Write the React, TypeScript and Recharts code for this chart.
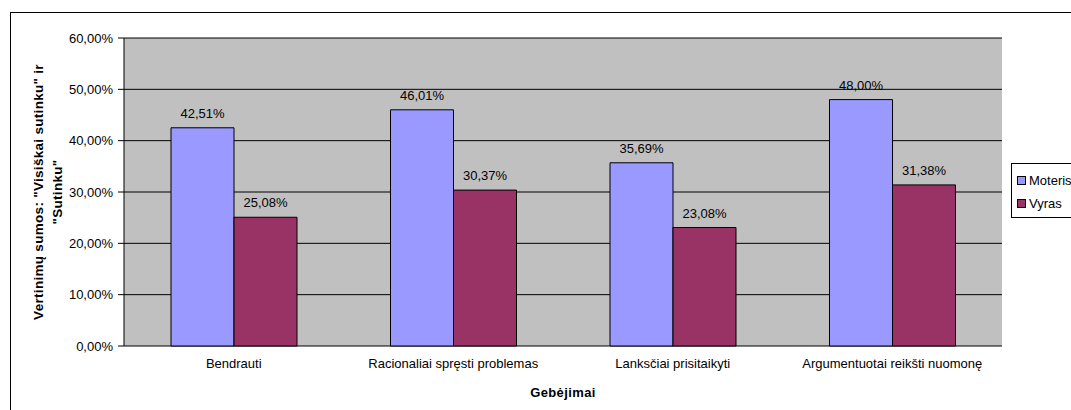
import { BarChart, Bar, XAxis, YAxis, CartesianGrid, Legend, LabelList, Label } from "recharts";

const categories = ["Bendrauti", "Racionaliai spręsti problemas", "Lanksčiai prisitaikyti", "Argumentuotai reikšti nuomonę"];
const moteris = [42.51, 46.01, 35.69, 48.0];
const vyras = [25.08, 30.37, 23.08, 31.38];
const yTicks = [0, 10, 20, 30, 40, 50, 60];
const boundaryTicks = [0, 1, 2, 3, 4];

const data = categories.map((name, i) => ({ name, moteris: moteris[i], vyras: vyras[i] }));

const FONT = "'Liberation Sans', Arial, sans-serif";
const pct = (v: number) => v.toFixed(2).replace(".", ",") + "%";

const LegendBox = () => (
  <div
    style={{
      border: "1px solid #000",
      background: "#fff",
      width: 80,
      height: 55,
      fontFamily: FONT,
      fontSize: 13,
      boxSizing: "border-box",
      paddingTop: 5,
      paddingLeft: 5,
    }}
  >
    {[
      ["Moteris", "#9999FF"],
      ["Vyras", "#993366"],
    ].map(([n, c]) => (
      <div key={n} style={{ display: "flex", alignItems: "center", height: 23 }}>
        <span style={{ width: 7, height: 7, border: "1px solid #000", background: c, marginRight: 3 }} />
        <span>{n}</span>
      </div>
    ))}
  </div>
);

const YTitle = (props: any) => {
  const vb = props.viewBox;
  const cy = vb.y + vb.height / 2;
  return (
    <text transform={`rotate(-90, 36, ${cy})`} x={36} y={cy} textAnchor="middle" fontFamily={FONT} fontSize={13.5} fontWeight="bold" letterSpacing={0.3} fill="#000">
      <tspan x={36} dy={-4}>Vertinimų sumos: "Visiškai sutinku" ir</tspan>
      <tspan x={36} dy={19}>"Sutinku"</tspan>
    </text>
  );
};

export default function App() {
  return (
    <div style={{ position: "fixed", left: 0, top: 0, width: 1071, height: 410, overflow: "hidden", background: "#fff" }}>
      <div style={{ position: "absolute", left: 10, top: 12, width: 1090, height: 410, border: "1px solid #000", background: "#fff" }}>
        <BarChart width={1090} height={400} data={data} margin={{ top: 25, right: 19, left: 0, bottom: 7 }} barGap={0}>
          <CartesianGrid vertical={false} stroke="#000" fill="#C0C0C0" fillOpacity={1} />
          <XAxis
            xAxisId="b"
            type="number"
            domain={[0, 4]}
            ticks={boundaryTicks}
            height={0}
            tickSize={5}
            tickFormatter={() => ""}
            axisLine={{ stroke: "#000" }}
            tickLine={{ stroke: "#000" }}
          />
          <XAxis
            dataKey="name"
            height={60}
            axisLine={false}
            tickLine={false}
            tickSize={0}
            tickMargin={13}
            interval={0}
            tick={{ fill: "#000", fontSize: 13, fontFamily: FONT }}
          >
            <Label value="Gebėjimai" position="insideBottom" offset={9} fill="#000" fontSize={13} fontWeight="bold" fontFamily={FONT} letterSpacing={0.4} />
          </XAxis>
          <YAxis
            width={113}
            domain={[0, 60]}
            ticks={yTicks}
            tickSize={6}
            tickMargin={5}
            tickFormatter={pct}
            axisLine={{ stroke: "#000" }}
            tickLine={{ stroke: "#000" }}
            tick={{ fill: "#000", fontSize: 13, fontFamily: FONT }}
          >
            <Label content={YTitle} />
          </YAxis>
          <Legend
            layout="vertical"
            align="right"
            verticalAlign="top"
            content={LegendBox}
            wrapperStyle={{ left: 1000, top: 150, width: 80 }}
          />
          <Bar dataKey="moteris" name="Moteris" fill="#9999FF" stroke="#000" barSize={63} isAnimationActive={false}>
            <LabelList dataKey="moteris" position="top" offset={10} formatter={(v: any) => pct(Number(v))} fill="#000" fontSize={13} fontFamily={FONT} />
          </Bar>
          <Bar dataKey="vyras" name="Vyras" fill="#993366" stroke="#000" barSize={63} isAnimationActive={false}>
            <LabelList dataKey="vyras" position="top" offset={10} formatter={(v: any) => pct(Number(v))} fill="#000" fontSize={13} fontFamily={FONT} />
          </Bar>
        </BarChart>
      </div>
    </div>
  );
}
